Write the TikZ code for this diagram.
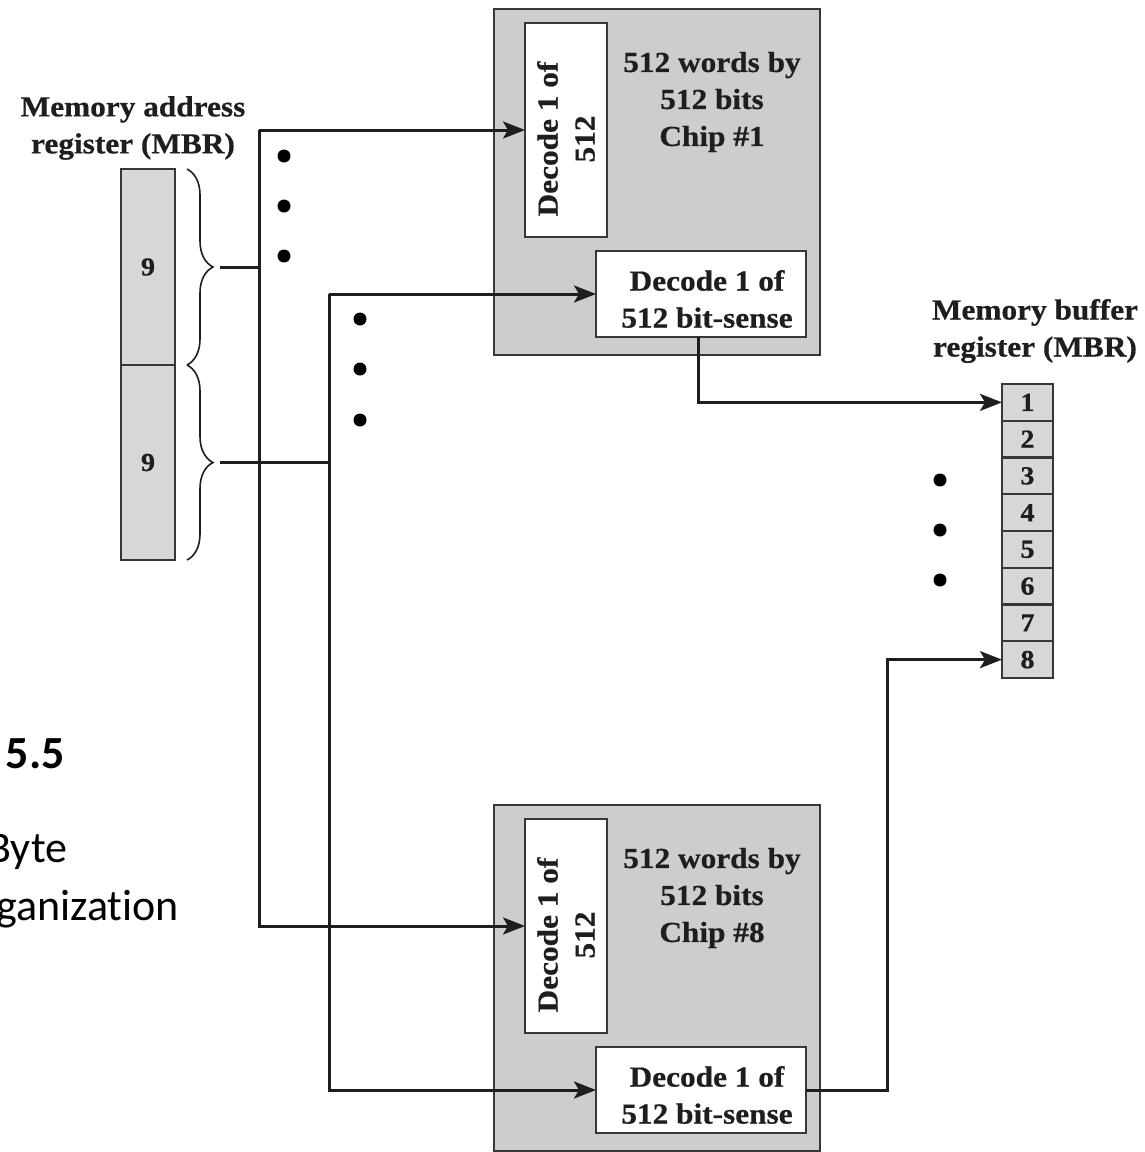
\documentclass[tikz,border=0pt]{standalone}
\usepackage{fontspec}
\setmainfont{Liberation Serif}[FakeStretch=1.08, BoldFeatures={FakeBold=0.6}]
\newfontfamily\calfont{Carlito}[Ligatures={NoCommon,NoRequired,NoContextual}]
\usetikzlibrary{arrows.meta,decorations.pathreplacing,calc}
\definecolor{chipgray}{RGB}{204,205,205}
\definecolor{reggray}{RGB}{214,216,215}
\definecolor{ink}{RGB}{30,30,30}
\definecolor{boxline}{RGB}{55,55,55}
\tikzset{
  chipbox/.style={draw=boxline, line width=1.2pt, fill=chipgray, minimum width=163pt, minimum height=173pt, inner sep=0pt, outer sep=0pt},
  wbox/.style={draw=boxline, line width=1.2pt, fill=white, inner sep=0pt, outer sep=0pt},
  regbox/.style={draw=boxline, line width=1.1pt, fill=reggray, inner sep=0pt, outer sep=0pt, text=ink, font=\fontsize{13}{15}\selectfont\bfseries},
  txt/.style={font=\fontsize{14.5}{18.5}\selectfont\bfseries, text=ink, align=center, inner sep=0pt},
  bus/.style={line width=1.5pt, draw=ink},
  arr/.style={bus, -{Stealth[length=11pt,width=8.5pt,inset=2.5pt]}},
  bdot/.style={circle, fill=black, minimum size=6.5pt, inner sep=0pt},
  bracepath/.style={draw=ink, line width=0.8pt, decorate, decoration={brace, amplitude=13pt}},
  slidetxt/.style={font=\calfont\fontsize{22}{26}\selectfont, inner sep=0pt, text=black}
}
\begin{document}
\begin{tikzpicture}[x=0.5pt,y=-0.5pt]
\useasboundingbox (0,0) rectangle (1145,1152);

% chip 1
\node[chipbox] (c1) at (657,182) {};
\node[wbox, minimum width=41pt, minimum height=107pt] (dec1) at (566,130) {};
\node[txt, rotate=90] (dec1t) at (566,139) {Decode 1 of\\512};
\node[wbox, minimum width=105pt, minimum height=43pt] (bs1) at (701,294) {};
\node[txt] (bs1t) at (707,299) {Decode 1 of\\512 bit-sense};
\node[txt] (lab1) at (712,102) {512 words by\\512 bits\\Chip \#1};

% chip 8
\node[chipbox] (c8) at (657,978) {};
\node[wbox, minimum width=41pt, minimum height=107pt] (dec8) at (566,926) {};
\node[txt, rotate=90] (dec8t) at (566,935) {Decode 1 of\\512};
\node[wbox, minimum width=105pt, minimum height=43pt] (bs8) at (701,1090) {};
\node[txt] (bs8t) at (707,1095) {Decode 1 of\\512 bit-sense};
\node[txt] (lab8) at (712,898) {512 words by\\512 bits\\Chip \#8};

% memory address register
\node[txt] (marlab) at (133,128) {Memory address\\register (MBR)};
\node[regbox, minimum width=27pt, minimum height=98pt] (mar1) at (148,267) {9};
\node[regbox, minimum width=27pt, minimum height=97.5pt] (mar2) at (148,462.5) {9};
\draw[bracepath] (187,169) -- (187,365);
\draw[bracepath] (187,365) -- (187,560);

% memory buffer register
\node[txt] (mbrlab) at (1035,331) {Memory buffer\\register (MBR)};
\foreach \i in {1,...,8}
  \node[regbox, minimum width=25.5pt, minimum height=18.375pt] (m\i) at (1027.5,{384+36.75*(\i-0.5)}) {\i};

% dots
\node[bdot] (d1) at (284,156) {};
\node[bdot] (d2) at (284,206) {};
\node[bdot] (d3) at (284,256) {};
\node[bdot] (d4) at (360,319) {};
\node[bdot] (d5) at (360,369) {};
\node[bdot] (d6) at (360,420) {};
\node[bdot] (d7) at (940,480) {};
\node[bdot] (d8) at (940,530) {};
\node[bdot] (d9) at (940,580) {};

% buses
\coordinate (x1) at (259,0);
\coordinate (x2) at (329,0);
\coordinate (t1) at (220,267);
\coordinate (t2) at (220,462);
\coordinate (o1) at (698,0);
\coordinate (o8) at (887,0);
\draw[bus] (t1) -- (t1 -| x1);
\draw[arr] (dec1.west -| x1) -- (dec1.west);
\draw[arr] (dec1.west -| x1) -- (dec8.west -| x1) -- (dec8.west);
\draw[bus] (t2) -- (t2 -| x2);
\draw[arr] (bs1.west -| x2) -- (bs1.west);
\draw[arr] (bs1.west -| x2) -- (bs8.west -| x2) -- (bs8.west);
\draw[arr] (bs1.south -| o1) |- (m1.west);
\draw[arr] (bs8.east) -- (bs8.east -| o8) -- (m8.west -| o8) -- (m8.west);

% slide caption (clipped at the left edge)
\node[slidetxt, font=\calfont\bfseries\fontsize{23}{27}\selectfont, anchor=base east] (fig) at (65,768) {5.5};
\node[slidetxt, anchor=base west] (cap1) at (-13,862) {Byte};
\node[slidetxt, anchor=base west] (cap2) at (-4,920) {ganization};
\end{tikzpicture}
\end{document}
